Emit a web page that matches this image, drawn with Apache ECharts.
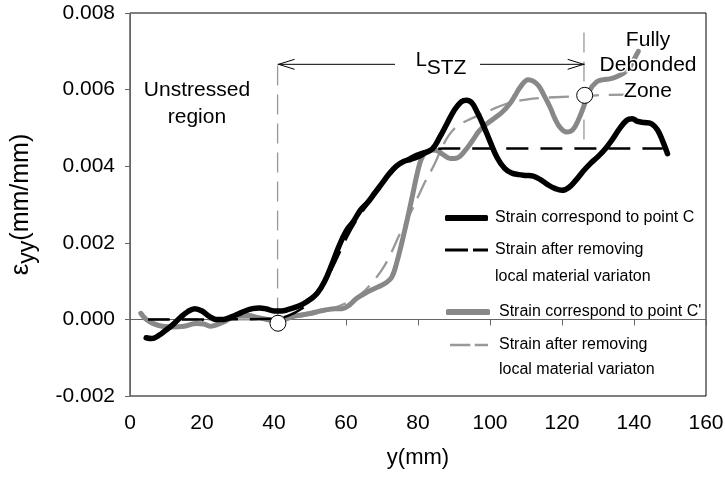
<!DOCTYPE html>
<html><head><meta charset="utf-8">
<script src="https://cdn.jsdelivr.net/npm/echarts@6/dist/echarts.min.js"></script>
<style>html,body{margin:0;padding:0;background:#fff}#c{width:725px;height:482px}</style>
</head><body><div id="c"></div>
<script>
// ---- data (y position along specimen in mm, strain in mm/mm) ----
const strainC = [[4.5,-0.00048],[6,-0.0005],[8,-0.00042],[10,-0.00028],[12,-0.00013],[14,0.00005],[16,0.0002],[18,0.00028],[20,0.00022],[22,0.00008],[24,0.0],[26,0.0],[28,0.00006],[30,0.00014],[32,0.00022],[34,0.00028],[36,0.0003],[38,0.00027],[40,0.00022],[42,0.00022],[44,0.00026],[46,0.00032],[48,0.0004],[50,0.00052],[52,0.00068],[54,0.00098],[56,0.00142],[58,0.0019],[60,0.0023],[62,0.00255],[64,0.00285],[66,0.00305],[68,0.0033],[70,0.00355],[72,0.0038],[74,0.004],[76,0.00412],[78,0.00418],[80,0.00425],[82,0.00435],[84,0.00445],[86,0.00475],[88,0.0051],[90,0.00545],[92,0.00568],[93.5,0.00572],[95,0.00565],[96.5,0.0054],[98,0.0051],[100,0.00465],[102,0.00422],[104,0.00395],[106,0.00382],[108,0.00378],[110,0.00376],[112,0.00374],[114,0.00365],[116,0.00352],[118,0.00342],[120,0.00337],[122,0.00345],[124,0.00365],[126,0.00388],[128,0.00408],[130,0.00425],[132,0.00445],[134,0.0047],[136,0.00498],[138,0.0052],[139.5,0.00524],[141,0.00517],[143,0.00514],[145,0.0051],[146.5,0.00495],[148,0.00465],[149.3,0.00433]];
const strainCSmooth = [[5,0],[20,0],[40,0.00002],[44,0.0001],[48,0.0003],[51,0.00055],[54,0.00095],[57,0.0015],[60,0.0021],[63,0.0026],[66,0.003],[69,0.0034],[72,0.00375],[75,0.00405],[78,0.00425],[81,0.00437],[84,0.00443],[87,0.00446],[148,0.00446]];
const strainCp = [[3,0.00016],[4.5,0.0],[6.5,-0.00011],[9,-0.00018],[12,-0.0002],[15,-0.00018],[18.5,-0.00011],[20.5,-0.00012],[22.2,-0.00018],[24,-0.00014],[26,-0.00007],[28,0.00003],[30,0.0001],[33,0.0001],[35,0.00006],[37,0.00002],[39,-0.00002],[41,-0.00004],[43,0.0],[45,0.00007],[48,0.00012],[51,0.00018],[54,0.00024],[57,0.00028],[59,0.00028],[61,0.00038],[63,0.00055],[66,0.00072],[69,0.00085],[71,0.00095],[72.7,0.0011],[74,0.00145],[75.5,0.002],[77,0.0026],[78.5,0.00325],[80,0.0039],[81.2,0.00425],[82.5,0.00438],[84,0.00442],[85.5,0.0044],[87,0.0043],[89,0.0042],[91,0.00422],[93,0.0044],[95,0.00465],[97,0.00492],[99,0.0051],[101.5,0.00527],[103.5,0.00542],[105.5,0.00563],[107,0.00585],[108.5,0.00608],[110.6,0.00626],[112,0.00622],[113.5,0.0061],[115,0.00585],[116.7,0.00554],[118,0.00525],[119.4,0.00502],[121.3,0.00489],[123,0.00495],[124.5,0.0052],[126,0.00555],[127.5,0.00595],[129.6,0.0062],[131.5,0.00626],[133.3,0.00628],[135,0.00633],[137,0.00642],[138.5,0.00655],[139.6,0.00672],[141.2,0.007]];
const strainCpSmooth = [[5,0],[20,0],[40,0],[45,0.00005],[50,0.00012],[55,0.00025],[60,0.00042],[64,0.00065],[67,0.00093],[70,0.0013],[72,0.00163],[75,0.00224],[77.5,0.0027],[80,0.0032],[82,0.0036],[84.3,0.004],[86.5,0.00445],[88.5,0.0048],[91,0.00505],[95,0.00525],[98,0.00537],[101,0.0055],[104.6,0.00563],[107.5,0.0057],[110,0.00574],[114,0.00578],[118,0.0058],[126,0.00583],[132,0.00586],[140,0.00587]];
const xTicks = [0, 160, 20];          // min, max, interval
const yTicks = [-0.002, 0.008, 0.002];
// annotation anchors in data units
const markerPoints = [[41.1,-0.0001],[126.3,0.00585]];
const guideLines = [[41,0.00005,0.00666],[126.1,0.0047,0.0077]];   // x, yFrom, yTo
const spanArrow = [[41,126.3,0.00666,86.4]];                        // xFrom, xTo, y, xLabel
const noteAnchors = [[18.6,0.00563],[143.9,0.00663]];
const noteTexts = ['Unstressed\nregion','Fully\nDebonded\nZone'];
const seriesNames = ['Strain correspond to point C','C smoothed',"Strain correspond to point C'","C' smoothed"];
const legendTexts = ['Strain correspond to point C','\nStrain after removing\nlocal material variaton',"Strain correspond to point C'",'\nStrain after removing\nlocal material variaton'];

const FONT = 'Liberation Sans, Arial, Helvetica, sans-serif';
const DASH_ICON = 'path://M0,0H23V3H0Z M28,0H43V3H28Z';
const chart = echarts.init(document.getElementById('c'));

function legendAt(i, left, top, lh, icon, w, h, pad) {
  return {
    data: [{ name: seriesNames[i], icon: icon }], left: left, top: top, padding: 0, orient: 'vertical',
    itemWidth: w, itemHeight: h, selectedMode: false,
    formatter: () => legendTexts[i],
    textStyle: { fontFamily: FONT, fontSize: 16, color: '#000', lineHeight: lh, padding: [0,0,0,pad] }
  };
}

const option = {
  animation: false,
  backgroundColor: '#fff',
  grid: { left: 130, right: 19, top: 13, bottom: 86, show: true, borderColor: '#000', borderWidth: 1, outerBoundsMode: 'none' },
  xAxis: {
    type: 'value', min: xTicks[0], max: xTicks[1], interval: xTicks[2],
    name: 'y(mm)', nameLocation: 'middle', nameGap: 51,
    nameTextStyle: { fontFamily: FONT, fontSize: 22, color: '#000' },
    axisLine: { show: true, lineStyle: { color: '#666', width: 1 } },
    axisTick: { show: true, inside: false, length: 6, lineStyle: { color: '#666' } },
    axisLabel: { fontFamily: FONT, fontSize: 21, color: '#000', margin: 17 },
    splitLine: { show: false }
  },
  yAxis: {
    type: 'value', min: yTicks[0], max: yTicks[1], interval: yTicks[2],
    name: '{e|ε}{s|yy}{n|(mm/mm)}', nameLocation: 'middle', nameGap: 90, nameRotate: 90,
    nameTextStyle: { fontFamily: FONT, color: '#000',
      rich: {
        e: { fontFamily: FONT, fontSize: 26, padding: [0,0,6,0] },
        s: { fontFamily: FONT, fontSize: 23, padding: [7,0,0,0] },
        n: { fontFamily: FONT, fontSize: 25, padding: [0,0,6,0] }
      } },
    axisLine: { show: true, lineStyle: { color: '#666', width: 1 } },
    axisTick: { show: true, inside: false, length: 5, lineStyle: { color: '#666' } },
    axisLabel: { fontFamily: FONT, fontSize: 21, color: '#000', margin: 15, formatter: v => v.toFixed(3) },
    splitLine: { show: false }
  },
  legend: [
    legendAt(0, 445, 205, 26, 'roundRect', 43, 6, 2),
    legendAt(1, 445, 209.5, 27, DASH_ICON, 43, 3, 2),
    legendAt(2, 446, 299, 26, 'roundRect', 44, 6, 4),
    legendAt(3, 450, 307.5, 25, DASH_ICON, 38, 3, 6)
  ],
  series: [
    { type: 'custom', silent: true, z: 1, data: guideLines, encode: { x: 0, y: [1,2] },
      renderItem: (p, api) => {
        const a = api.coord([api.value(0), api.value(1)]);
        const b = api.coord([api.value(0), api.value(2)]);
        return { type: 'line', shape: { x1: a[0], y1: a[1], x2: b[0], y2: b[1] },
          style: { stroke: '#999', lineWidth: 1.3, lineDash: [20, 9] } };
      } },
    { name: seriesNames[3], type: 'line', data: strainCpSmooth, smooth: 0.4, symbol: 'none', z: 2,
      lineStyle: { color: '#999', width: 2.3, type: [20, 10] }, itemStyle: { color: '#999' } },
    { name: seriesNames[2], type: 'line', data: strainCp, smooth: 0.4, symbol: 'none', z: 3,
      lineStyle: { color: '#888', width: 5, cap: 'round', join: 'round' }, itemStyle: { color: '#888' } },
    { name: seriesNames[1], type: 'line', data: strainCSmooth, smooth: 0.4, symbol: 'none', z: 4,
      lineStyle: { color: '#000', width: 2.5, type: [22, 12] }, itemStyle: { color: '#000' } },
    { name: seriesNames[0], type: 'line', data: strainC, smooth: 0.4, symbol: 'none', z: 5,
      lineStyle: { color: '#000', width: 5.5, cap: 'round', join: 'round' }, itemStyle: { color: '#000' } },
    { type: 'custom', silent: true, z: 6, data: spanArrow, encode: { x: [0,1,3], y: 2 },
      renderItem: (p, api) => {
        const a = api.coord([api.value(0), api.value(2)]);
        const b = api.coord([api.value(1), api.value(2)]);
        const c = api.coord([api.value(3), api.value(2)]);
        const st = { stroke: '#000', lineWidth: 1, fill: null };
        return { type: 'group', children: [
          { type: 'line', shape: { x1: a[0], y1: a[1], x2: c[0] - 46, y2: a[1] }, style: st },
          { type: 'line', shape: { x1: c[0] + 39, y1: b[1], x2: b[0], y2: b[1] }, style: st },
          { type: 'polyline', shape: { points: [[a[0] + 17, a[1] - 5], [a[0] + 1, a[1]], [a[0] + 17, a[1] + 5]] }, style: st },
          { type: 'polyline', shape: { points: [[b[0] - 17, b[1] - 5], [b[0] - 1, b[1]], [b[0] - 17, b[1] + 5]] }, style: st },
          { type: 'text', x: c[0], y: c[1], style: { text: '{a|L}{b|STZ}', align: 'center', verticalAlign: 'middle', fill: '#000',
            rich: { a: { fontFamily: FONT, fontSize: 20, padding: [0,0,8,0] }, b: { fontFamily: FONT, fontSize: 21, padding: [8,0,0,0] } } } }
        ] };
      } },
    { type: 'custom', silent: true, z: 7, data: noteAnchors,
      renderItem: (p, api) => {
        const a = api.coord([api.value(0), api.value(1)]);
        const i = p.dataIndex;
        return { type: 'text', x: a[0], y: a[1], style: { text: noteTexts[i], fontFamily: FONT, fontSize: 21,
          lineHeight: i === 0 ? 27 : 25.5, align: 'center', verticalAlign: 'middle', fill: '#000',
          stroke: i === 1 ? '#fff' : null, lineWidth: i === 1 ? 3 : 0 } };
      } },
    { type: 'scatter', silent: true, z: 8, data: markerPoints, symbol: 'circle', symbolSize: 16,
      itemStyle: { color: '#fff', borderColor: '#000', borderWidth: 1, opacity: 1 } }
  ]
};
chart.setOption(option);
</script></body></html>
